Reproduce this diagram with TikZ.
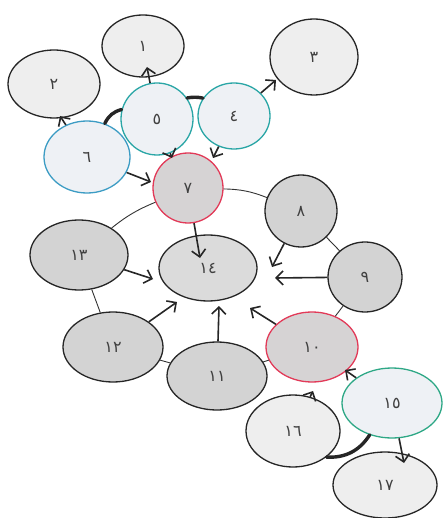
\documentclass[tikz,border=0pt]{standalone}
\usepackage{fontspec}
\newfontfamily\digitfont{DejaVu Sans}
\usetikzlibrary{arrows.meta,shapes.geometric}
\definecolor{tealb}{HTML}{2AA6A6}
\definecolor{blueb}{HTML}{3C9CC4}
\definecolor{redb}{HTML}{E23A58}
\definecolor{greenb}{HTML}{2EA886}
\definecolor{lightf}{HTML}{EEEEEE}
\definecolor{bluef}{HTML}{EEF1F5}
\definecolor{grayf}{HTML}{D3D3D3}
\definecolor{pinkf}{HTML}{D6D3D4}
\begin{document}
\begin{tikzpicture}[x=1pt,y=-1pt,
  nd/.style={ellipse, draw=black!85, line width=1.3pt, inner sep=0pt,
    font=\digitfont\fontsize{16}{16}\selectfont, text=black!75},
  light/.style={nd, fill=lightf},
  gray/.style={nd, fill=grayf},
  tealn/.style={nd, fill=bluef, draw=tealb},
  redn/.style={nd, fill=pinkf, draw=redb},
  arr/.style={line width=1.6pt, black!85, -{Straight Barb[length=7pt,width=14pt]}},
  ring/.style={line width=0.9pt, black!80},
  bond/.style={line width=3.4pt, black!85, line cap=round}
]
\useasboundingbox (0,0) rectangle (442,518);
\fill[white] (0,0) rectangle (442,518);

% nodes
\node[light, minimum width=82pt, minimum height=62pt] (n1) at (143,46) {١};
\node[light, minimum width=92pt, minimum height=68pt] (n2) at (54,84) {٢};
\node[light, minimum width=88pt, minimum height=76pt] (n3) at (314,57) {٣};
\node[tealn, minimum width=72pt, minimum height=72pt] (n5) at (157,119) {٥};
\node[tealn, minimum width=72pt, minimum height=66pt] (n4) at (234,116) {٤};
\node[tealn, draw=blueb, minimum width=86pt, minimum height=72pt] (n6) at (87,157) {٦};
\node[redn, minimum width=70pt, minimum height=70pt] (n7) at (188,188) {٧};
\node[gray, minimum width=72pt, minimum height=72pt] (n8) at (301,211) {٨};
\node[gray, minimum width=74pt, minimum height=70pt] (n9) at (365,277) {٩};
\node[gray, minimum width=98pt, minimum height=70pt] (n13) at (79,255) {١٣};
\node[gray, fill=black!14, minimum width=98pt, minimum height=66pt] (n14) at (208,268) {١٤};
\node[gray, minimum width=100pt, minimum height=70pt] (n12) at (113,347) {١٢};
\node[gray, minimum width=100pt, minimum height=68pt] (n11) at (217,376) {١١};
\node[redn, minimum width=92pt, minimum height=70pt] (n10) at (312,347) {١٠};
\node[tealn, draw=greenb, minimum width=100pt, minimum height=70pt] (n15) at (392,403) {١٥};
\node[light, minimum width=94pt, minimum height=72pt] (n16) at (293,431) {١٦};
\node[light, minimum width=104pt, minimum height=66pt] (n17) at (385,485) {١٧};

% arrow tips
\coordinate (t1) at (147,67);
\coordinate (t2) at (60,116);
\coordinate (t3) at (276,80);
\coordinate (t5) at (172,158);
\coordinate (t4) at (213,158);
\coordinate (t6) at (151,182);
\coordinate (t7) at (200,258);
\coordinate (t8) at (272,267);
\coordinate (t9) at (275,278);
\coordinate (t13) at (153,279);
\coordinate (t12) at (177,302);
\coordinate (t11) at (219,306);
\coordinate (t10) at (250,308);
\coordinate (t15) at (345,370);
\coordinate (t16) at (313,391);
\coordinate (t17) at (404,463);

% ring
\draw[ring] (n7) to[bend left=10] (n8);
\draw[ring] (n8) -- (n9);
\draw[ring] (n9) -- (n10);
\draw[ring] (n10) -- (n11);
\draw[ring] (n11) -- (n12);
\draw[ring] (n12) -- (n13);
\draw[ring] (n13) to[bend left=8] (n7);

% bonds
\draw[bond] (n6.62) to[bend left=25] (n5.165);
\draw[bond] (n5.35) to[bend left=10] (n4.150);
\draw[bond] (n16.-38) to[bend right=30] (n15.-125);

% arrows
\draw[arr] (n5) -- (t1);
\draw[arr] (n6) -- (t2);
\draw[arr] (n4) -- (t3);
\draw[arr] (n5) -- (t5);
\draw[arr] (n4) -- (t4);
\draw[arr] (n6) -- (t6);
\draw[arr] (n7) -- (t7);
\draw[arr] (n8) -- (t8);
\draw[arr] (n9) -- (t9);
\draw[arr] (n13) -- (t13);
\draw[arr] (n12) -- (t12);
\draw[arr] (n11) -- (t11);
\draw[arr] (n10) -- (t10);
\draw[arr] (n15) -- (t15);
\draw[arr] (n16) -- (t16);
\draw[arr] (n15) -- (t17);
\end{tikzpicture}
\end{document}
